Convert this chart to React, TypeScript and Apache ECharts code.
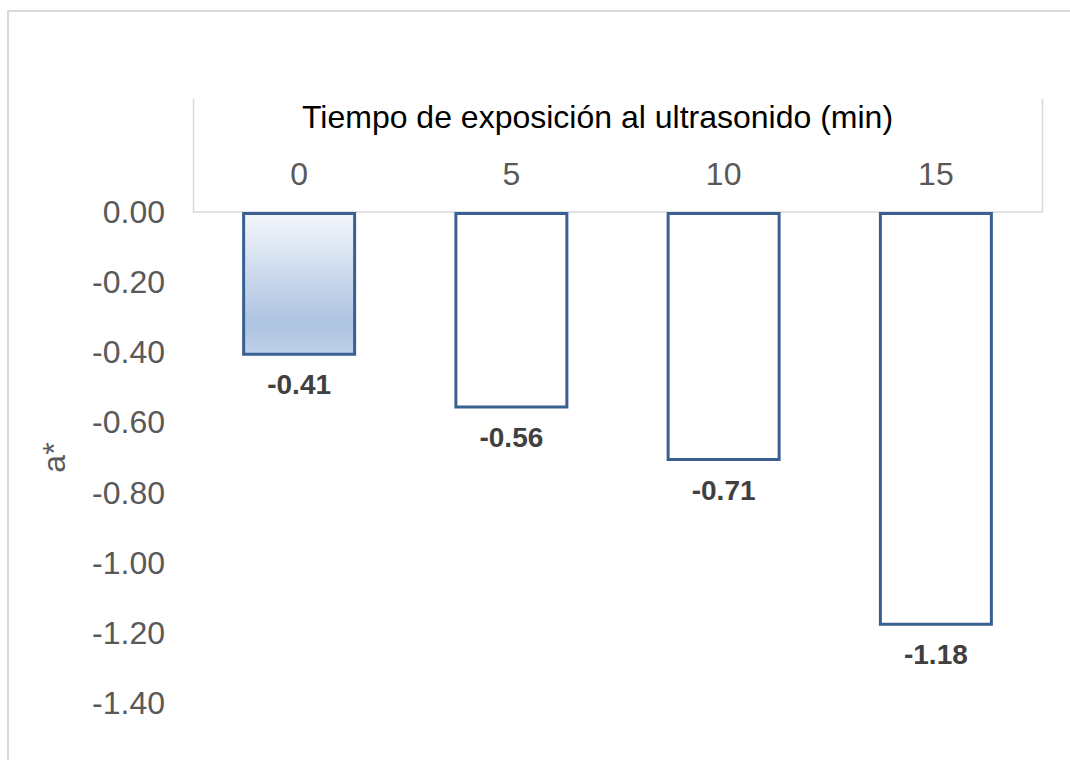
import React, { useEffect, useRef } from "react";
import * as echarts from "echarts";

// Exposure time to ultrasound (minutes) and the measured a* colour coordinate
const categories: string[] = ["0", "5", "10", "15"];
const aStar: number[] = [-0.41, -0.56, -0.71, -1.18];
const axisTitle = "Tiempo de exposición al ultrasonido (min)";
const valueAxisName = "a*";

const FONT = "'Liberation Sans', Arial, sans-serif";
const OUTLINE = "#3A6092";

export default function App() {
  const ref = useRef<HTMLDivElement>(null);

  useEffect(() => {
    if (!ref.current) return;
    const chart = echarts.init(ref.current, undefined, { renderer: "svg" });

    const firstFill = new echarts.graphic.LinearGradient(0, 0, 0, 1, [
      { offset: 0, color: "#F3F6FB" },
      { offset: 0.78, color: "#ADC3E1" },
      { offset: 1, color: "#BFD0E8" },
    ]);

    chart.setOption({
      animation: false,
      backgroundColor: "#ffffff",
      textStyle: { fontFamily: FONT },
      grid: { left: 193, right: 28, top: 212, bottom: 57, containLabel: false },
      xAxis: {
        type: "category",
        position: "top",
        data: categories,
        axisLine: { show: true, lineStyle: { color: "#D9D9D9", width: 1.5 } },
        axisTick: { show: false },
        axisLabel: { color: "#595959", fontSize: 32, margin: 22, fontFamily: FONT },
        name: axisTitle,
        nameLocation: "middle",
        nameGap: 79,
        nameTextStyle: { color: "#000000", fontSize: 32, fontFamily: FONT, padding: [0, 40, 0, 0] },
      },
      yAxis: {
        type: "value",
        min: -1.4,
        max: 0,
        interval: 0.2,
        axisLine: { show: false },
        axisTick: { show: false },
        splitLine: { show: false },
        axisLabel: {
          color: "#595959",
          fontSize: 32,
          margin: 28,
          fontFamily: FONT,
          formatter: (v: number) => v.toFixed(2),
        },
        name: valueAxisName,
        nameLocation: "middle",
        nameGap: 123,
        nameRotate: 90,
        nameTextStyle: { color: "#595959", fontSize: 32, fontFamily: FONT },
      },
      series: [
        {
          type: "bar",
          barWidth: 114,
          data: aStar.map((v, i) => ({
            value: v,
            itemStyle: {
              color: i === 0 ? firstFill : "#FFFFFF",
              borderColor: OUTLINE,
              borderWidth: 3,
            },
          })),
          label: {
            show: true,
            position: "bottom",
            distance: 15,
            color: "#404040",
            fontSize: 28,
            fontWeight: "bold",
            fontFamily: FONT,
            formatter: (p: any) => Number(p.value).toFixed(2),
          },
        },
      ],
      graphic: [
        {
          type: "rect",
          silent: true,
          shape: { x: 8, y: 11, width: 1100, height: 800 },
          style: { fill: "none", stroke: "#D9D9D9", lineWidth: 2 },
        },
        {
          type: "line",
          silent: true,
          shape: { x1: 193.5, y1: 99, x2: 193.5, y2: 212 },
          style: { stroke: "#D9D9D9", lineWidth: 1.5 },
        },
        {
          type: "line",
          silent: true,
          shape: { x1: 1042.5, y1: 99, x2: 1042.5, y2: 212 },
          style: { stroke: "#D9D9D9", lineWidth: 1.5 },
        },
      ],
    });

    return () => chart.dispose();
  }, []);

  return (
    <div
      ref={ref}
      style={{ position: "fixed", left: 0, top: 0, width: 1070, height: 760 }}
    />
  );
}
